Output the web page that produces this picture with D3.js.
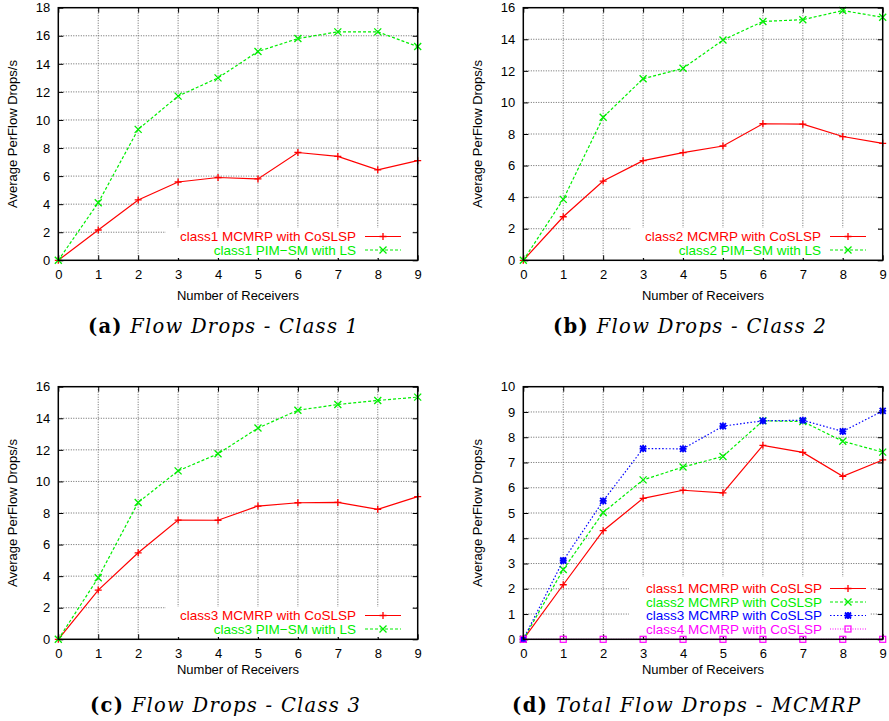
<!DOCTYPE html>
<html>
<head>
<meta charset="utf-8">
<script src="https://cdn.jsdelivr.net/npm/d3@7"></script>
<style>
  html, body { margin: 0; padding: 0; background: #fff; }
  svg { display: block; }
  .tick-label { font-family: "Liberation Sans", Arial, sans-serif; font-size: 13px; fill: #000; }
  .axis-title { font-family: "Liberation Sans", Arial, sans-serif; font-size: 13px; fill: #000; }
  .legend-text { font-family: "Liberation Sans", Arial, sans-serif; font-size: 13.5px; }
  .caption { font-family: "DejaVu Serif", "Liberation Serif", serif; font-size: 19.5px; fill: #000; }
</style>
</head>
<body>
<svg id="chart" width="889" height="721"></svg>
<script>
// ---------------- DATA ----------------
const receivers = [0, 1, 2, 3, 4, 5, 6, 7, 8, 9];

const class1MCMRP = [0, 2.16, 4.3, 5.58, 5.9, 5.8, 7.68, 7.4, 6.45, 7.1];
const class1PIMSM = [0, 4.1, 9.33, 11.7, 13.0, 14.88, 15.8, 16.28, 16.28, 15.23];

const class2MCMRP = [0, 2.76, 5.02, 6.31, 6.82, 7.24, 8.65, 8.62, 7.84, 7.41];
const class2PIMSM = [0, 3.86, 9.06, 11.5, 12.16, 13.95, 15.13, 15.24, 15.82, 15.39];

const class3MCMRP = [0, 3.12, 5.48, 7.55, 7.54, 8.44, 8.65, 8.67, 8.23, 9.04];
const class3PIMSM = [0, 3.9, 8.67, 10.67, 11.75, 13.38, 14.51, 14.87, 15.13, 15.34];

const class4MCMRP = [0, 0, 0, 0, 0, 0, 0, 0, 0, 0];

const yTicksA = [0, 2, 4, 6, 8, 10, 12, 14, 16, 18];
const yTicksB = [0, 2, 4, 6, 8, 10, 12, 14, 16];
const yTicksC = [0, 2, 4, 6, 8, 10, 12, 14, 16];
const yTicksD = [0, 1, 2, 3, 4, 5, 6, 7, 8, 9, 10];

const legendA = ["class1 MCMRP with CoSLSP", "class1 PIM\u2212SM with LS"];
const legendB = ["class2 MCMRP with CoSLSP", "class2 PIM\u2212SM with LS"];
const legendC = ["class3 MCMRP with CoSLSP", "class3 PIM\u2212SM with LS"];
const legendD = ["class1 MCMRP with CoSLSP", "class2 MCMRP with CoSLSP",
                 "class3 MCMRP with CoSLSP", "class4 MCMRP with CoSLSP"];

const captionLetters = ["(a)", "(b)", "(c)", "(d)"];
const captionTitles = ["Flow Drops - Class 1", "Flow Drops - Class 2",
                       "Flow Drops - Class 3", "Total Flow Drops - MCMRP"];

const xTitle = "Number of Receivers";
const yTitle = "Average PerFlow Drops/s";

// ---------------- STYLES ----------------
const styles = {
  red:     { color: "#ff0000", dash: null,  marker: "plus" },
  green:   { color: "#00ee00", dash: "3,2", marker: "cross" },
  blue:    { color: "#0000ff", dash: "1.5,2", marker: "star" },
  magenta: { color: "#ff00ff", dash: "1,1.5", marker: "square" }
};

const panels = [
  { box: [58.3, 7.7, 417.7, 260.3], yMax: 18, yTicks: yTicksA,
    series: [[class1MCMRP, "red"], [class1PIMSM, "green"]], legend: legendA,
    legendBox: [166, 228, 412, 258], legendTextX: 356, legendY: 236.5, legendSample: [365, 401],
    yTitlePos: [12, 134], xTitleY: 295, captionPos: [88, 326], captionLen: 270 },
  { box: [523.3, 7.7, 882.7, 260.3], yMax: 16, yTicks: yTicksB,
    series: [[class2MCMRP, "red"], [class2PIMSM, "green"]], legend: legendB,
    legendBox: [631, 228, 878, 258], legendTextX: 821, legendY: 236.5, legendSample: [830, 866],
    yTitlePos: [477, 134], xTitleY: 295, captionPos: [553, 326], captionLen: 273 },
  { box: [58.3, 386.7, 417.7, 639.3], yMax: 16, yTicks: yTicksC,
    series: [[class3MCMRP, "red"], [class3PIMSM, "green"]], legend: legendC,
    legendBox: [166, 607, 412, 637], legendTextX: 356, legendY: 615.5, legendSample: [365, 401],
    yTitlePos: [12, 513], xTitleY: 669, captionPos: [90, 705], captionLen: 270 },
  { box: [523.3, 386.7, 882.7, 639.3], yMax: 10, yTicks: yTicksD,
    series: [[class1MCMRP, "red"], [class2MCMRP, "green"], [class3MCMRP, "blue"], [class4MCMRP, "magenta"]],
    legend: legendD,
    legendBox: [629, 577, 870, 637], legendTextX: 822, legendY: 588.5, legendSample: [830, 866],
    yTitlePos: [477, 513], xTitleY: 669, captionPos: [512, 705], captionLen: 348 }
];

const svg = d3.select("#chart");

function drawMarker(g, type, x, y, color) {
  const s = 3.5;
  const path = d3.path();
  if (type === "plus" || type === "star") {
    path.moveTo(x - s, y); path.lineTo(x + s, y);
    path.moveTo(x, y - s); path.lineTo(x, y + s);
  }
  if (type === "cross" || type === "star") {
    const c = type === "star" ? 3 : 3.5;
    path.moveTo(x - c, y - c); path.lineTo(x + c, y + c);
    path.moveTo(x - c, y + c); path.lineTo(x + c, y - c);
  }
  if (type === "square") {
    g.append("rect").attr("x", x - 3).attr("y", y - 3).attr("width", 6).attr("height", 6)
      .attr("fill", "none").attr("stroke", color).attr("stroke-width", 1.2);
    g.append("rect").attr("x", x - 0.6).attr("y", y - 0.6).attr("width", 1.2).attr("height", 1.2)
      .attr("fill", color);
    return;
  }
  g.append("path").attr("d", path.toString()).attr("stroke", color)
    .attr("stroke-width", type === "star" ? 1.8 : 1.3).attr("fill", "none");
}

panels.forEach((p, i) => {
  const [x0, y0, x1, y1] = p.box;
  const x = d3.scaleLinear().domain([0, 9]).range([x0, x1]);
  const y = d3.scaleLinear().domain([0, p.yMax]).range([y1, y0]);
  const g = svg.append("g");

  // grid
  g.append("g").selectAll("line").data(p.yTicks.filter(t => t > 0 && t < p.yMax)).join("line")
    .attr("x1", x0).attr("x2", x1).attr("y1", d => y(d)).attr("y2", d => y(d))
    .attr("stroke", "#666").attr("stroke-width", 1).attr("stroke-dasharray", "1,1.5");
  g.append("g").selectAll("line").data(receivers.filter(t => t > 0 && t < 9)).join("line")
    .attr("x1", d => x(d)).attr("x2", d => x(d)).attr("y1", y0).attr("y2", y1)
    .attr("stroke", "#666").attr("stroke-width", 1).attr("stroke-dasharray", "1,1.5");

  // axes (ticks inward, mirrored)
  const tl = 5;
  const yAxisL = d3.axisLeft(y).tickValues(p.yTicks).tickSize(-tl).tickPadding(8).tickFormat(d3.format("d"));
  const yAxisR = d3.axisRight(y).tickValues(p.yTicks).tickSize(-tl).tickFormat("");
  const xAxisB = d3.axisBottom(x).tickValues(receivers).tickSize(-tl).tickPadding(9).tickFormat(d3.format("d"));
  const xAxisT = d3.axisTop(x).tickValues(receivers).tickSize(-tl).tickFormat("");
  const axes = [
    g.append("g").attr("transform", `translate(${x0},0)`).call(yAxisL),
    g.append("g").attr("transform", `translate(${x1},0)`).call(yAxisR),
    g.append("g").attr("transform", `translate(0,${y1})`).call(xAxisB),
    g.append("g").attr("transform", `translate(0,${y0})`).call(xAxisT)
  ];
  axes.forEach(a => {
    a.select(".domain").remove();
    a.attr("font-size", null).attr("font-family", null);
    a.selectAll(".tick line").attr("stroke", "#000").attr("stroke-width", 1);
    a.selectAll(".tick text").attr("class", "tick-label");
  });

  // legend background
  const lb = p.legendBox;
  g.append("rect").attr("x", lb[0]).attr("y", lb[1]).attr("width", lb[2] - lb[0]).attr("height", lb[3] - lb[1])
    .attr("fill", "#fff");

  // series
  const line = d3.line().x((d, j) => x(receivers[j])).y(d => y(d));
  p.series.forEach(([vals, key]) => {
    const st = styles[key];
    g.append("path").datum(vals).attr("d", line)
      .attr("fill", "none").attr("stroke", st.color).attr("stroke-width", 1.2)
      .attr("stroke-dasharray", st.dash);
    const mg = g.append("g");
    vals.forEach((v, j) => drawMarker(mg, st.marker, x(receivers[j]), y(v), st.color));
  });

  // border
  g.append("rect").attr("x", x0).attr("y", y0).attr("width", x1 - x0).attr("height", y1 - y0)
    .attr("fill", "none").attr("stroke", "#000").attr("stroke-width", 1.5);

  // legend
  p.legend.forEach((label, k) => {
    const st = styles[p.series[k][1]];
    const ly = p.legendY + k * 13.5;
    g.append("text").attr("class", "legend-text").attr("x", p.legendTextX).attr("y", ly)
      .attr("dy", "0.35em").attr("text-anchor", "end").attr("fill", st.color).text(label);
    g.append("line").attr("x1", p.legendSample[0]).attr("x2", p.legendSample[1])
      .attr("y1", ly).attr("y2", ly).attr("stroke", st.color).attr("stroke-width", 1.2)
      .attr("stroke-dasharray", st.dash);
    drawMarker(g, st.marker, (p.legendSample[0] + p.legendSample[1]) / 2, ly, st.color);
  });

  // titles
  g.append("text").attr("class", "axis-title").attr("x", (x0 + x1) / 2).attr("y", p.xTitleY)
    .attr("dy", "0.35em").attr("text-anchor", "middle").text(xTitle);
  g.append("text").attr("class", "axis-title")
    .attr("transform", `translate(${p.yTitlePos[0]},${p.yTitlePos[1]}) rotate(-90)`)
    .attr("dy", "0.35em").attr("text-anchor", "middle").text(yTitle);

  // caption
  const cap = g.append("text").attr("class", "caption").attr("x", p.captionPos[0]).attr("y", p.captionPos[1])
    .attr("dy", "0.35em").attr("text-anchor", "start")
    .attr("textLength", p.captionLen).attr("lengthAdjust", "spacing");
  cap.append("tspan").attr("font-weight", "bold").text(captionLetters[i]);
  cap.append("tspan").attr("font-style", "italic").text("\u00a0" + captionTitles[i]);
});
</script>
</body>
</html>
